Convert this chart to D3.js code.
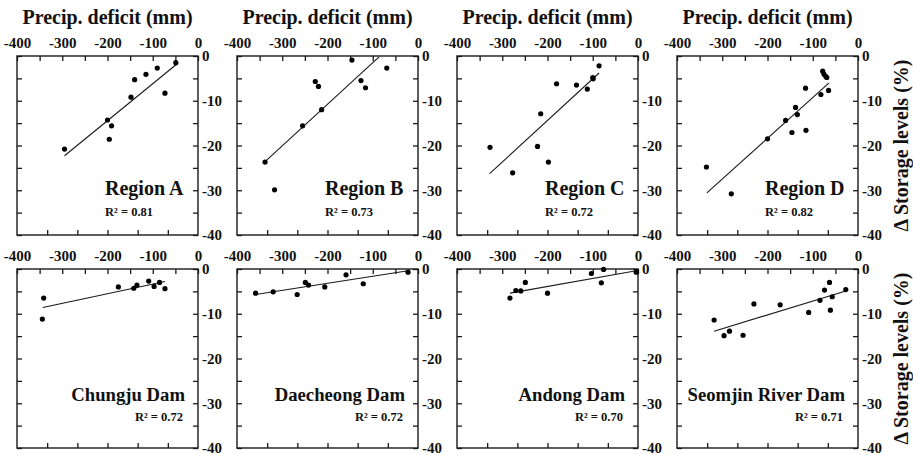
<!DOCTYPE html>
<html><head><meta charset="utf-8">
<script src="https://cdn.jsdelivr.net/npm/d3@7"></script>
<style>
html,body{margin:0;padding:0;background:#fff;}
svg{display:block;}
text{font-family:"Liberation Serif","Times New Roman",serif;font-weight:bold;fill:#111;}
</style></head>
<body><svg id="chart" width="913" height="455"></svg>
<script>
// ---- Data ----
const panelNames = ["Region A","Region B","Region C","Region D","Chungju Dam","Daecheong Dam","Andong Dam","Seomjin River Dam"];
const r2Labels = ["R² = 0.81","R² = 0.73","R² = 0.72","R² = 0.82","R² = 0.72","R² = 0.72","R² = 0.70","R² = 0.71"];

const regionA_x = [-49,-90,-115,-140,-73,-148,-200,-191,-196,-295];
const regionA_y = [-1.5,-2.7,-4.1,-5.3,-8.3,-9.2,-14.3,-15.6,-18.6,-20.8];
const regionB_x = [-146,-69,-227,-220,-126,-116,-213,-255,-338,-317];
const regionB_y = [-0.9,-2.7,-5.7,-6.8,-5.5,-7.1,-12.0,-15.6,-23.7,-29.9];
const regionC_x = [-86,-100,-99,-136,-112,-180,-215,-222,-327,-198,-277];
const regionC_y = [-2.2,-4.8,-5.1,-6.5,-7.4,-6.2,-12.9,-20.2,-20.4,-23.7,-26.1];
const regionD_x = [-78,-75,-71,-69,-116,-65,-82,-138,-134,-160,-146,-115,-200,-335,-280];
const regionD_y = [-3.4,-4.1,-4.6,-4.8,-7.2,-7.7,-8.6,-11.5,-13.1,-14.4,-17.1,-16.6,-18.5,-24.8,-30.8];
const chungju_x = [-109,-85,-135,-176,-97,-142,-73,-341,-344];
const chungju_y = [-2.7,-3.0,-3.6,-4.0,-3.9,-4.3,-4.4,-6.5,-11.2];
const daecheong_x = [-22,-159,-121,-249,-242,-206,-320,-359,-267];
const daecheong_y = [-0.7,-1.3,-3.3,-3.0,-3.6,-4.0,-5.1,-5.4,-5.7];
const andong_x = [-4,-76,-103,-81,-249,-270,-259,-200,-283];
const andong_y = [-0.7,-0.1,-1.0,-3.1,-3.0,-4.8,-4.9,-5.4,-6.5];
const seomjin_x = [-63,-27,-74,-57,-84,-230,-172,-109,-61,-318,-284,-296,-254];
const seomjin_y = [-3.0,-4.6,-4.7,-6.2,-7.0,-7.8,-8.0,-9.7,-9.2,-11.4,-13.9,-14.9,-14.8];

// regression line end points [x1,x2] and [y1,y2]
const fitX = [[-295,-48],[-338,-86],[-328,-86],[-334,-64],[-343,-73],[-359,-22],[-283,-4],[-318,-27]];
const fitY = [[-22.3,-1.9],[-23.6,-0.2],[-26.3,-3.8],[-30.6,-6.0],[-8.6,-2.8],[-5.7,-0.4],[-5.4,-0.4],[-13.9,-4.9]];

const xTicks = [-400,-350,-300,-250,-200,-150,-100,-50,0];
const yTicks = [0,-5,-10,-15,-20,-25,-30,-35,-40];
const xTitle = "Precip. deficit (mm)";
const yTitle = "Δ Storage levels (%)";

const seriesX = [regionA_x,regionB_x,regionC_x,regionD_x,chungju_x,daecheong_x,andong_x,seomjin_x];
const seriesY = [regionA_y,regionB_y,regionC_y,regionD_y,chungju_y,daecheong_y,andong_y,seomjin_y];

// ---- Layout ----
const svg = d3.select("#chart");
const W = 181, H = 179;
const lefts = [17,237,457,677];
const tops = [56,269];
const ink = "#1a1a1a";

for (let i = 0; i < 8; i++) {
  const col = i % 4, row = Math.floor(i / 4);
  const L = lefts[col], T = tops[row];
  const x = d3.scaleLinear().domain([-400,0]).range([0,W]);
  const y = d3.scaleLinear().domain([0,-40]).range([0,H]);
  const g = svg.append("g").attr("transform", `translate(${L},${T})`);

  // axes
  const top = g.append("g").call(d3.axisTop(x).tickValues(xTicks).tickSizeInner(-5).tickSizeOuter(0).tickPadding(8)
      .tickFormat(d => d % 100 === 0 ? String(d) : ""));
  const right = g.append("g").attr("transform",`translate(${W},0)`).call(d3.axisRight(y).tickValues(yTicks).tickSizeInner(-5).tickSizeOuter(0).tickPadding(4)
      .tickFormat(d => d % 10 === 0 ? String(d) : ""));
  const left = g.append("g").call(d3.axisLeft(y).tickValues(yTicks).tickSizeInner(-5).tickSizeOuter(0).tickFormat(""));
  const bx = d3.scaleLinear().domain([0,6]).range([0,W]);
  const bottom = g.append("g").attr("transform",`translate(0,${H})`).call(d3.axisBottom(bx).tickValues([1,2,3,4,5]).tickSizeInner(-5).tickSizeOuter(0).tickFormat(""));
  [top,right,left,bottom].forEach(a => {
    a.select(".domain").remove();
    a.selectAll(".tick line").attr("stroke", ink).attr("stroke-width", 1.3);
    a.selectAll("text").attr("font-size", 15).attr("fill", ink)
      .style("font-family",'"Liberation Serif","Times New Roman",serif').style("font-weight","bold");
  });
  right.selectAll("text").attr("dy","0.33em");

  g.append("rect").attr("width", W).attr("height", H).attr("fill","none").attr("stroke", ink).attr("stroke-width", 1.4);

  // fit line
  g.append("line")
    .attr("x1", x(fitX[i][0])).attr("y1", y(fitY[i][0]))
    .attr("x2", x(fitX[i][1])).attr("y2", y(fitY[i][1]))
    .attr("stroke", ink).attr("stroke-width", 1.1);

  // points
  const pts = seriesX[i].map((v,k) => [v, seriesY[i][k]]);
  g.selectAll("circle").data(pts).enter().append("circle")
    .attr("cx", d => x(d[0])).attr("cy", d => y(d[1])).attr("r", 2.6).attr("fill", "#000");

  // labels
  if (row === 0) {
    g.append("text").attr("x", 88).attr("y", 139).attr("font-size", 20).text(panelNames[i]);
    g.append("text").attr("x", 88).attr("y", 160).attr("font-size", 12.5).text(r2Labels[i]);
    svg.append("text").attr("x", L + W/2).attr("y", 24).attr("text-anchor","middle").attr("font-size", 20).text(xTitle);
  } else {
    g.append("text").attr("x", 168).attr("y", 132).attr("text-anchor","end").attr("font-size", 18.7).text(panelNames[i]);
    g.append("text").attr("x", 166).attr("y", 152).attr("text-anchor","end").attr("font-size", 12.5).text(r2Labels[i]);
  }
}
// right side y titles
tops.forEach(T => {
  svg.append("text").attr("transform", `translate(908,${T + H/2}) rotate(-90)`)
    .attr("text-anchor","middle").attr("font-size", 20).text(yTitle);
});
</script></body></html>
